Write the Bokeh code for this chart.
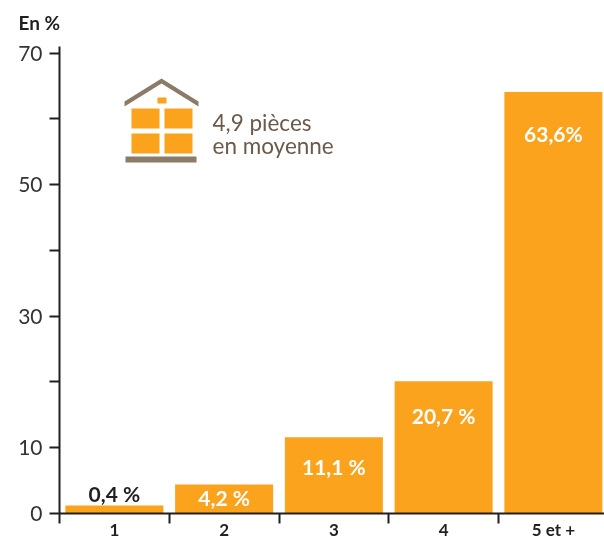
from bokeh.plotting import figure
from bokeh.models import FixedTicker, Range1d, Label
from bokeh.core.properties import value
from bokeh.embed import file_html
from bokeh.resources import INLINE

categories = ["1", "2", "3", "4", "5 et +"]
drawn_heights = [1.2, 4.4, 11.6, 20.1, 64.1]
bar_labels = ["0,4 %", "4,2 %", "11,1 %", "20,7 %", "63,6%"]
label_y = [3.0, 2.5, 7.2, 14.9, 57.7]
label_colors = ["#231f20", "#ffffff", "#ffffff", "#ffffff", "#ffffff"]
y_major = [0, 10, 30, 50, 70]
y_minor = [20, 40, 60]

ORANGE = "#FBA31C"
TAUPE = "#8C7B68"
FONT = "Lato"
INK = "#231f20"

p = figure(frame_width=545, frame_height=467, output_backend="svg", toolbar_location=None,
           x_range=Range1d(0, 545 / 109.75), y_range=Range1d(0, 71),
           min_border_left=59, min_border_right=0, min_border_top=46, min_border_bottom=26,
           outline_line_color=None, background_fill_color="white",
           title="En %", title_location="above",
           styles={"position": "fixed", "left": "0px", "top": "0px"})
p.title.align = "left"
p.title.vertical_align = "top"
p.title.offset = -41
p.title.standoff = 21
p.title.text_font = FONT
p.title.text_font_style = "bold"
p.title.text_font_size = "19px"
p.title.text_color = INK
p.grid.visible = False

xs = [i + 0.5 for i in range(len(categories))]
p.vbar(x=xs, top=drawn_heights, bottom=0, width=0.893, color=ORANGE, line_color=None)

p.xaxis.ticker = FixedTicker(ticks=xs, minor_ticks=list(range(5)))
p.xaxis.major_label_overrides = {x: c for x, c in zip(xs, categories)}
p.xaxis.major_tick_in = 0
p.xaxis.major_tick_out = 0
p.xaxis.minor_tick_in = 0
p.xaxis.minor_tick_out = 10
p.xaxis.minor_tick_line_width = 2
p.xaxis.minor_tick_line_color = INK
p.xaxis.axis_line_width = 2
p.xaxis.axis_line_color = INK
p.xaxis.major_label_text_font = FONT
p.xaxis.major_label_text_font_style = "bold"
p.xaxis.major_label_text_font_size = "17px"
p.xaxis.major_label_text_color = INK
p.xaxis.major_label_standoff = -5

p.yaxis.ticker = FixedTicker(ticks=y_major, minor_ticks=y_minor)
p.yaxis.major_tick_in = 0
p.yaxis.major_tick_out = 10
p.yaxis.minor_tick_in = 0
p.yaxis.minor_tick_out = 10
p.yaxis.major_tick_line_width = 2
p.yaxis.minor_tick_line_width = 2
p.yaxis.major_tick_line_color = INK
p.yaxis.minor_tick_line_color = INK
p.yaxis.axis_line_width = 2
p.yaxis.axis_line_color = INK
p.yaxis.major_label_text_font = FONT
p.yaxis.major_label_text_font_size = "21px"
p.yaxis.major_label_text_color = "#333333"
p.yaxis.major_label_standoff = 7

p.text(x=xs, y=label_y, text=bar_labels, text_font=value(FONT), text_font_style="bold",
       text_font_size="21px", text_color=label_colors, text_align="center", text_baseline="middle")

# icon, page pixels converted to data space
def dx(px): return (px - 59) / 109.75
def dy(py): return (513 - py) / 6.577

p.patch([dx(v) for v in (124, 161, 198, 198, 161, 124)],
        [dy(v) for v in (101, 78, 101, 106, 83, 106)], color=TAUPE, line_color=None)
for x0, y0, x1, y1, c in [(131, 108, 159, 128, ORANGE), (164, 108, 192, 128, ORANGE),
                          (131, 133, 159, 153, ORANGE), (164, 133, 192, 153, ORANGE),
                          (157, 97, 166, 103, ORANGE), (125, 156, 196, 162, TAUPE)]:
    p.quad(left=dx(x0), right=dx(x1), top=dy(y0), bottom=dy(y1), color=c, line_color=None)

for txt, py in [("4,9 pièces", 122), ("en moyenne", 145)]:
    p.add_layout(Label(x=dx(212), y=dy(py), text=txt, text_font=FONT, text_font_size="22.5px",
                       text_color="#6B5A4A", text_baseline="middle"))

open("out.html", "w").write(file_html(p, INLINE))
